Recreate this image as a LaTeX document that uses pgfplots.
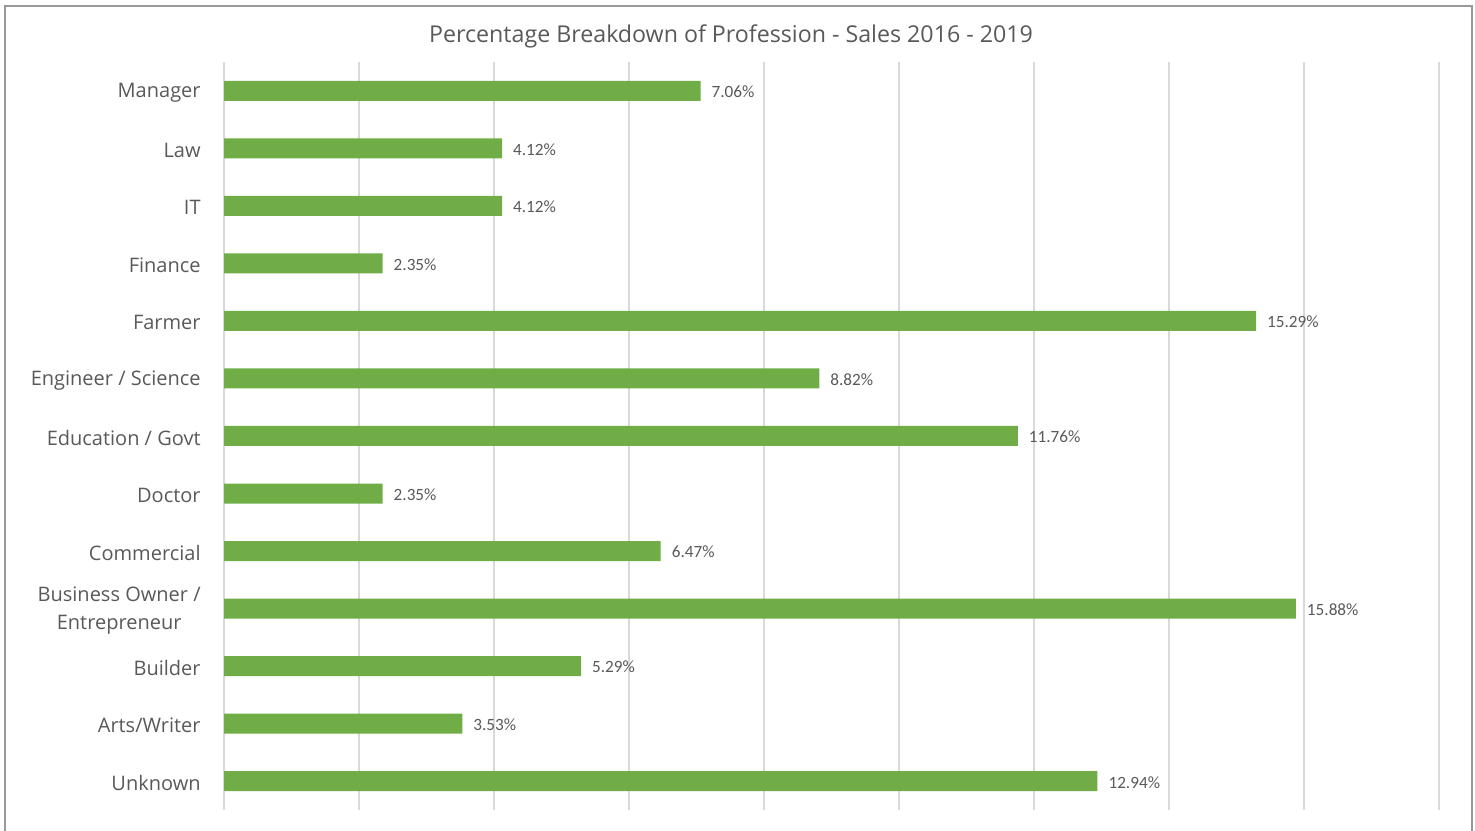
\documentclass[border=0pt]{standalone}
\usepackage{fontspec}
\setmainfont{Open Sans}
\newfontfamily\datafont{Carlito}
\usepackage{pgfplots}
\pgfplotsset{compat=1.18}
\definecolor{barg}{HTML}{70AD47}
\definecolor{txt}{HTML}{595959}
\definecolor{grd}{HTML}{D9D9D9}
\begin{document}
\begin{tikzpicture}
\useasboundingbox (0,0) rectangle (737.5pt,415pt);
\draw[color=gray!80, line width=0.8pt] (2.5pt,-5pt) -- (2.5pt,412pt) -- (736pt,412pt) -- (736pt,-5pt);
\node[text=txt, font=\fontsize{11.6}{13}\selectfont] at (365.5pt,397pt) {Percentage Breakdown of Profession - Sales 2016 - 2019};
\begin{axis}[
  at={(112pt,10pt)}, anchor=south west,
  scale only axis, width=607.5pt, height=374pt,
  xbar, bar width=10pt,
  xmin=0, xmax=18, ymin=-0.5, ymax=12.5,
  xtick={0,2,...,18}, xticklabels={},
  xmajorgrids, major grid style={color=grd, line width=0.75pt},
  ytick={0,...,12},
  yticklabels={Unknown,Arts/Writer,Builder,{Business Owner /\\Entrepreneur},Commercial,Doctor,Education / Govt,Engineer / Science,Farmer,Finance,IT,Law,Manager},
  yticklabel style={align=center, text=txt, font=\fontsize{10}{14}\selectfont, inner sep=0pt, xshift=-11.5pt, yshift=-1pt},
  major tick length=0pt,
  axis line style={draw=none},
  nodes near coords={\pgfmathprintnumber[fixed,fixed zerofill,precision=2]{\pgfplotspointmeta}\%},
  nodes near coords style={font=\datafont\fontsize{8.6}{10}\selectfont, text=txt, anchor=west, xshift=2pt, yshift=-0.5pt},
  /pgf/number format/assume math mode=true,
]
\addplot[fill=barg, draw=none] coordinates {
(12.94,0) (3.53,1) (5.29,2) (15.88,3) (6.47,4) (2.35,5) (11.76,6) (8.82,7) (15.29,8) (2.35,9) (4.12,10) (4.12,11) (7.06,12)
};
\end{axis}
\end{tikzpicture}
\end{document}
